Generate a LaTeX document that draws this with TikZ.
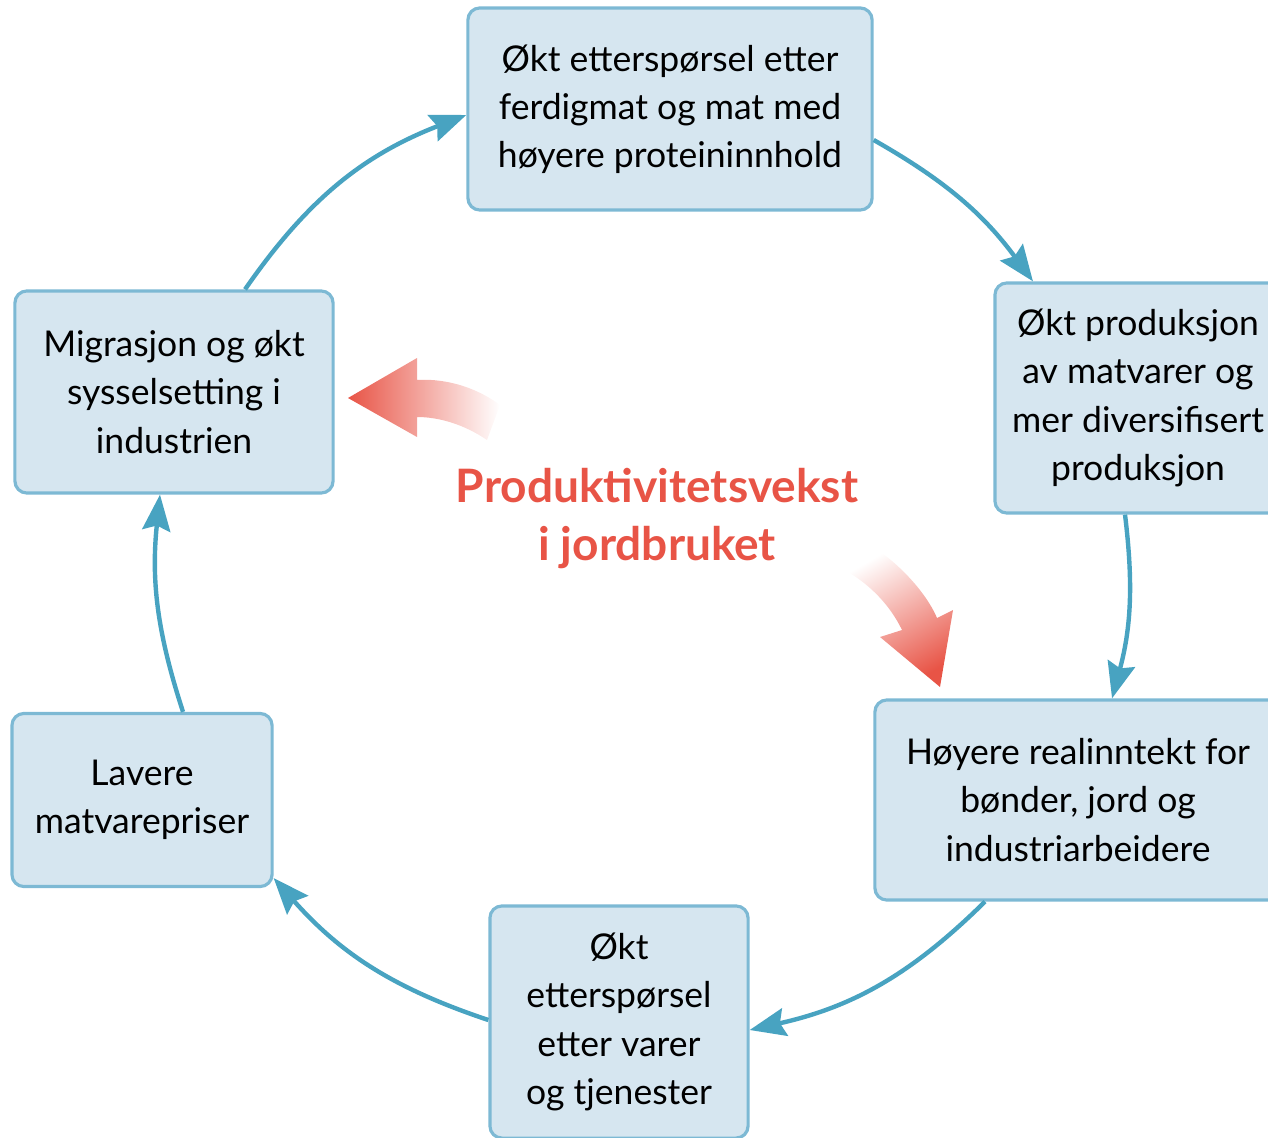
\documentclass[tikz,border=0pt]{standalone}
\usepackage{fontspec}
\setmainfont{Lato}
\usetikzlibrary{arrows.meta}
\definecolor{boxfill}{RGB}{214,230,240}
\definecolor{boxline}{RGB}{125,185,212}
\definecolor{kretsblue}{RGB}{72,163,193}
\definecolor{vekstred}{RGB}{232,84,70}
\tikzset{
  stage/.style={draw=boxline,fill=boxfill,line width=0.9pt,rounded corners=0.12cm,
    align=center,inner sep=0pt,font=\fontsize{10.1}{13.7}\selectfont},
  krets/.style={draw=kretsblue,line width=1.25pt,
    -{Stealth[length=0.36cm,width=0.28cm,inset=0.05cm]}},
}
\begin{document}
\begin{tikzpicture}[x=0.01cm,y=-0.01cm]
  \useasboundingbox (0,0) rectangle (1268,1137);
  \node[stage,minimum width=4.04cm,minimum height=2.02cm] (ettersp) at (670,109)
    {Økt etterspørsel etter\\ferdigmat og mat med\\høyere proteininnhold};
  \node[stage,minimum width=2.86cm,minimum height=2.30cm] (prod) at (1138,398)
    {Økt produksjon\\av matvarer og\\mer diversifisert\\produksjon};
  \node[stage,minimum width=4.06cm,minimum height=2.00cm] (innt) at (1078,800)
    {Høyere realinntekt for\\bønder, jord og\\industriarbeidere};
  \node[stage,minimum width=2.58cm,minimum height=2.32cm] (varer) at (619,1022)
    {Økt\\etterspørsel\\etter varer\\og tjenester};
  \node[stage,minimum width=2.60cm,minimum height=1.73cm] (priser) at (142,800)
    {Lavere\\matvarepriser};
  \node[stage,minimum width=3.18cm,minimum height=2.02cm] (mig) at (174,392)
    {Migrasjon og økt\\sysselsetting i\\industrien};
%%%
  \draw[krets] ([xshift=0.71cm]mig.north) to[bend left=17] ([yshift=-0.06cm]ettersp.west);
  \draw[krets] ([yshift=-0.31cm]ettersp.east) to[bend left=12] ([xshift=-1.05cm]prod.north);
  \draw[krets] ([xshift=-0.13cm]prod.south) to[bend left=11] ([xshift=0.34cm]innt.north);
  \draw[krets] ([xshift=-0.93cm]innt.south) to[bend left=16] ([yshift=-0.08cm]varer.east);
  \draw[krets] ([yshift=0.02cm]varer.west) to[bend left=15] ([yshift=-0.78cm]priser.east);
  \draw[krets] ([xshift=0.41cm]priser.north) to[bend left=12] ([xshift=-0.14cm]mig.south);
%%%
  \node[font=\bfseries\fontsize{13.1}{16.5}\selectfont,text=vekstred,align=center] (vekst)
    at (657,519) {Produktivitetsvekst\\i jordbruket};
  \shade[left color=vekstred,right color=white]
    (348,398) -- (417,358) -- (417,380) .. controls (450,378) and (480,390) .. (500,405)
    -- (487,440) .. controls (465,425) and (440,417) .. (417,417) -- (417,437) -- cycle;
  \shade[top color=white,bottom color=vekstred,shading angle=30]
    (940,687) -- (880,637) -- (902,630) .. controls (890,605) and (870,585) .. (848,572)
    -- (870,545) .. controls (895,560) and (925,590) .. (937,618) -- (953,610) -- cycle;
\end{tikzpicture}
\end{document}
